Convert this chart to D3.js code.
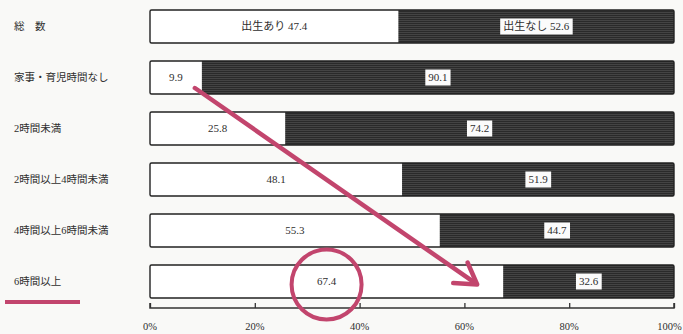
<!DOCTYPE html>
<html>
<head>
<meta charset="utf-8">
<script src="https://cdn.jsdelivr.net/npm/d3@7"></script>
<style>
  html, body { margin: 0; padding: 0; background: #f9f9f7; }
  svg { display: block; }
  text { font-family: "Liberation Serif", "DejaVu Serif", "Noto Sans CJK JP", serif; fill: #2e2e2e; }
</style>
</head>
<body>
<svg id="chart" width="683" height="334"></svg>
<script>
// Share of wives with / without a birth, by husband's daily housework & childcare time (%)
const categories = ["総　数", "家事・育児時間なし", "2時間未満", "2時間以上4時間未満", "4時間以上6時間未満", "6時間以上"];
const withBirth = [47.4, 9.9, 25.8, 48.1, 55.3, 67.4];
const withoutBirth = [52.6, 90.1, 74.2, 51.9, 44.7, 32.6];
const tickValues = [0, 20, 40, 60, 80, 100];
const firstRowPrefix = ["出生あり ", "出生なし "];

const svg = d3.select("#chart");
const accent = "#c2456d";
const W = 683;

const x = d3.scaleLinear().domain([0, 100]).range([150, 674]);
const y = d3.scaleBand().domain(categories).range([10, 298]).paddingInner(18 / 51).paddingOuter(0);

// Dense horizontal hatching for the "no birth" segments
const defs = svg.append("defs");
const pat = defs.append("pattern")
  .attr("id", "hatch").attr("patternUnits", "userSpaceOnUse")
  .attr("width", 4).attr("height", 2);
pat.append("rect").attr("width", 4).attr("height", 2).attr("fill", "#2a2a2a");
pat.append("rect").attr("width", 4).attr("height", 0.8).attr("fill", "#4a4a4a");

const rows = svg.append("g").selectAll("g")
  .data(categories.map((c, i) => ({ c, i, a: withBirth[i], b: withoutBirth[i] })))
  .join("g");

// white segment
rows.append("rect")
  .attr("x", x(0))
  .attr("y", d => y(d.c))
  .attr("width", d => x(d.a) - x(0))
  .attr("height", y.bandwidth())
  .attr("fill", "#ffffff");

// dark segment
rows.append("rect")
  .attr("x", d => x(d.a))
  .attr("y", d => y(d.c))
  .attr("width", d => x(d.a + d.b) - x(d.a))
  .attr("height", y.bandwidth())
  .attr("fill", "url(#hatch)");

// outline
rows.append("rect")
  .attr("x", x(0))
  .attr("y", d => y(d.c))
  .attr("width", d => x(d.a + d.b) - x(0))
  .attr("height", y.bandwidth())
  .attr("fill", "none")
  .attr("stroke", "#222")
  .attr("stroke-width", 1.4)
  .attr("rx", 1.5);

// labels in the white segment
rows.append("text")
  .attr("x", d => (x(0) + x(d.a)) / 2)
  .attr("y", d => y(d.c) + y.bandwidth() / 2)
  .attr("dy", "0.35em")
  .attr("text-anchor", "middle")
  .attr("font-size", 11)
  .text(d => (d.i === 0 ? firstRowPrefix[0] : "") + d.a.toFixed(1));

// boxed labels in the dark segment
const darkLabels = rows.append("g")
  .attr("transform", d => `translate(${(x(d.a) + x(d.a + d.b)) / 2},${y(d.c) + y.bandwidth() / 2})`);
darkLabels.append("text")
  .attr("dy", "0.35em")
  .attr("text-anchor", "middle")
  .attr("font-size", 11)
  .attr("fill", "#222")
  .text(d => (d.i === 0 ? firstRowPrefix[1] : "") + d.b.toFixed(1))
  .each(function () {
    const bb = this.getBBox();
    d3.select(this.parentNode).insert("rect", "text")
      .attr("x", bb.x - 3).attr("y", -8)
      .attr("width", bb.width + 6).attr("height", 16)
      .attr("fill", "#fbfbfb");
  });

// category labels
svg.append("g").selectAll("text")
  .data(categories)
  .join("text")
  .attr("x", 14)
  .attr("y", d => y(d) + y.bandwidth() / 2)
  .attr("dy", "0.35em")
  .attr("font-size", 10.5)
  .attr("fill", "#444")
  .text(d => d);

// axis with upward ticks
const axis = svg.append("g")
  .attr("transform", "translate(0,308)")
  .call(d3.axisTop(x).tickValues(tickValues).tickSize(5).tickFormat(() => ""));
axis.select(".domain").attr("stroke", "#333").attr("stroke-width", 1.5)
  .attr("d", `M${x(0)},-5V0H${x(100)}V-5`);
axis.selectAll(".tick line").attr("stroke", "#333").attr("stroke-width", 1.3);

svg.append("g").selectAll("text")
  .data(tickValues)
  .join("text")
  .attr("x", d => x(d))
  .attr("y", 326)
  .attr("dy", "0.35em")
  .attr("text-anchor", "middle")
  .attr("font-size", 10.5)
  .attr("fill", "#555")
  .text(d => d + "%")
  .each(function () {
    // keep the last label inside the frame
    const bb = this.getBBox();
    const over = bb.x + bb.width - (W - 1);
    if (over > 0) d3.select(this).attr("x", +d3.select(this).attr("x") - over);
  });

// highlight: underline, arrow and circle
const last = categories[categories.length - 1];
svg.append("rect")
  .attr("x", 5).attr("y", 300).attr("width", 75).attr("height", 4)
  .attr("fill", accent);

const start = [x(withBirth[1]) - 7, y(categories[1]) + y.bandwidth() - 6];
const tip = [x(withBirth[5]) - 26, y(last) + y.bandwidth() / 2 + 3];
const ang = Math.atan2(tip[1] - start[1], tip[0] - start[0]);
const wing = 24, spread = 0.55;
svg.append("line")
  .attr("x1", start[0]).attr("y1", start[1])
  .attr("x2", tip[0] - 4 * Math.cos(ang)).attr("y2", tip[1] - 4 * Math.sin(ang))
  .attr("stroke", accent).attr("stroke-width", 4.5).attr("stroke-linecap", "round");
svg.append("path")
  .attr("d", d3.line()([
    [tip[0] - wing * Math.cos(ang - spread), tip[1] - wing * Math.sin(ang - spread)],
    tip,
    [tip[0] - wing * Math.cos(ang + spread), tip[1] - wing * Math.sin(ang + spread)]
  ]))
  .attr("fill", "none").attr("stroke", accent).attr("stroke-width", 4.5)
  .attr("stroke-linecap", "round").attr("stroke-linejoin", "round");

svg.append("circle")
  .attr("cx", (x(0) + x(withBirth[5])) / 2)
  .attr("cy", y(last) + y.bandwidth() / 2 + 3)
  .attr("r", 35)
  .attr("fill", "none").attr("stroke", accent).attr("stroke-width", 4);
</script>
</body>
</html>
